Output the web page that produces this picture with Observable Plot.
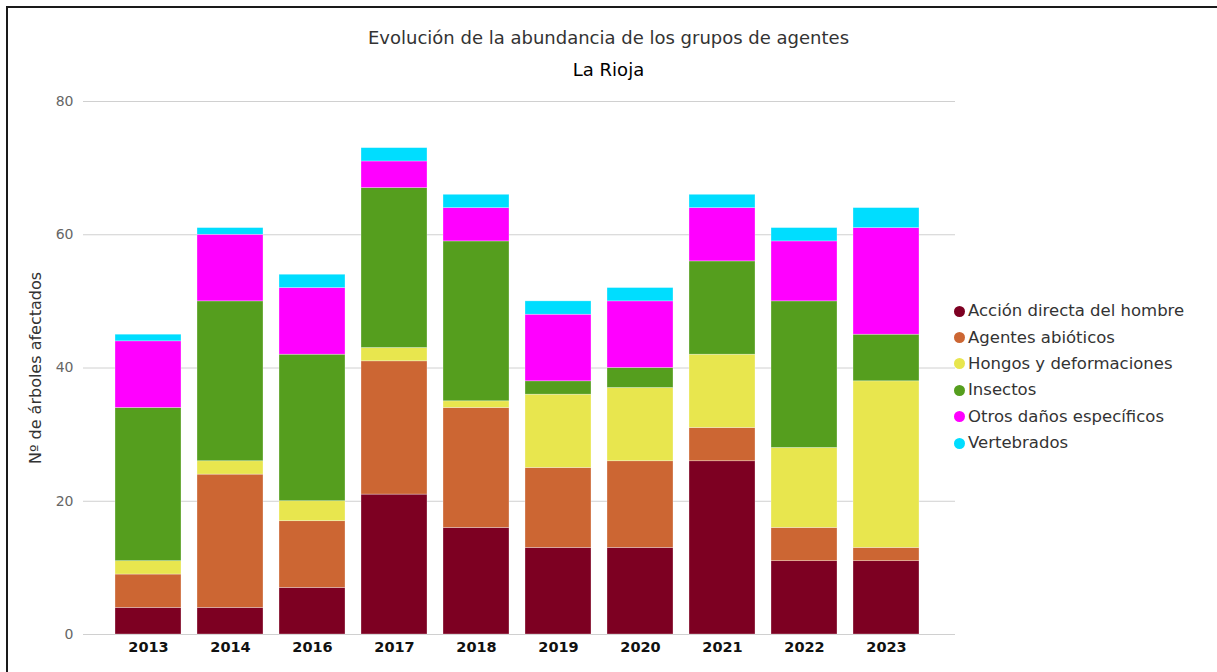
<!DOCTYPE html>
<html>
<head>
<meta charset="utf-8">
<script src="https://cdn.jsdelivr.net/npm/d3@7"></script>
<script src="https://cdn.jsdelivr.net/npm/@observablehq/plot@0.6"></script>
<style>
  html, body { margin: 0; padding: 0; background: #fff; overflow: hidden; width: 1217px; height: 672px; }
  #frame { position: absolute; left: 6px; top: 6px; width: 1400px; height: 900px; border: 2px solid #1a1a1a; box-sizing: border-box; }
  .t { position: absolute; left: 0; width: 1217px; text-align: center; font-family: "DejaVu Sans", sans-serif; line-height: 22px; }
  #title { top: 27px; font-size: 18px; color: #333; }
  #subtitle { top: 59px; font-size: 18px; color: #000; }
  #ylabel { position: absolute; left: 35px; top: 368px; transform: translate(-50%, -50%) rotate(-90deg); white-space: nowrap; font-family: "DejaVu Sans", sans-serif; font-size: 16px; color: #333; }
  #chart { position: absolute; left: 0; top: 90px; }
  #legend { position: absolute; left: 954px; top: 298px; font-family: "DejaVu Sans", sans-serif; font-size: 16.5px; color: #333; }
  .item { height: 26.4px; line-height: 22px; display: flex; align-items: center; white-space: nowrap; }
  .dot { width: 11px; height: 11px; border-radius: 50%; margin-right: 3px; display: inline-block; }
</style>
</head>
<body>
<div id="frame"></div>
<div class="t" id="title">Evolución de la abundancia de los grupos de agentes</div>
<div class="t" id="subtitle">La Rioja</div>
<div id="ylabel">Nº de árboles afectados</div>
<div id="chart"></div>
<div id="legend"></div>
<script>
const years = ["2013","2014","2016","2017","2018","2019","2020","2021","2022","2023"];
const seriesNames = ["Acción directa del hombre","Agentes abióticos","Hongos y deformaciones","Insectos","Otros daños específicos","Vertebrados"];
const seriesColors = ["#7d0022","#cc6633","#e8e64e","#559e1e","#ff00ff","#00ddff"];
const accion      = [4, 4, 7, 21, 16, 13, 13, 26, 11, 11];
const abioticos   = [5, 20, 10, 20, 18, 12, 13, 5, 5, 2];
const hongos      = [2, 2, 3, 2, 1, 11, 11, 11, 12, 25];
const insectos    = [23, 24, 22, 24, 24, 2, 3, 14, 22, 7];
const otros       = [10, 10, 10, 4, 5, 10, 10, 8, 9, 16];
const vertebrados = [1, 1, 2, 2, 2, 2, 2, 2, 2, 3];
const yTicks = [0, 20, 40, 60, 80];

const seriesValues = [accion, abioticos, hongos, insectos, otros, vertebrados];
const data = seriesValues.flatMap((vals, s) => vals.map((v, i) => ({year: years[i], series: seriesNames[s], value: v})));

const plot = Plot.plot({
  width: 960,
  height: 582,
  marginLeft: 83,
  marginRight: 5,
  marginTop: 11,
  marginBottom: 38,
  style: {fontFamily: "DejaVu Sans, sans-serif", background: "transparent"},
  x: {domain: years, paddingInner: 0.195, paddingOuter: 0.39, align: 0.47, label: null},
  y: {domain: [0, 80], label: null},
  color: {domain: seriesNames, range: seriesColors},
  marks: [
    Plot.ruleY(yTicks, {stroke: "#d0d0d0", strokeWidth: 1}),
    Plot.barY(data, Plot.stackY({x: "year", y: "value", fill: "series", stroke: "#fff", strokeWidth: 0.6, strokeOpacity: 0.5})),
    Plot.axisY({ticks: yTicks, tickSize: 0, tickPadding: 10, fontSize: 14, color: "#666", label: null}),
    Plot.axisX({tickSize: 0, tickPadding: 7, fontSize: 14.5, fontWeight: "bold", color: "#111", label: null})
  ]
});
document.getElementById("chart").appendChild(plot);

const legend = document.getElementById("legend");
seriesNames.forEach((name, i) => {
  const row = document.createElement("div");
  row.className = "item";
  const dot = document.createElement("span");
  dot.className = "dot";
  dot.style.background = seriesColors[i];
  row.appendChild(dot);
  row.appendChild(document.createTextNode(name));
  legend.appendChild(row);
});
</script>
</body>
</html>
